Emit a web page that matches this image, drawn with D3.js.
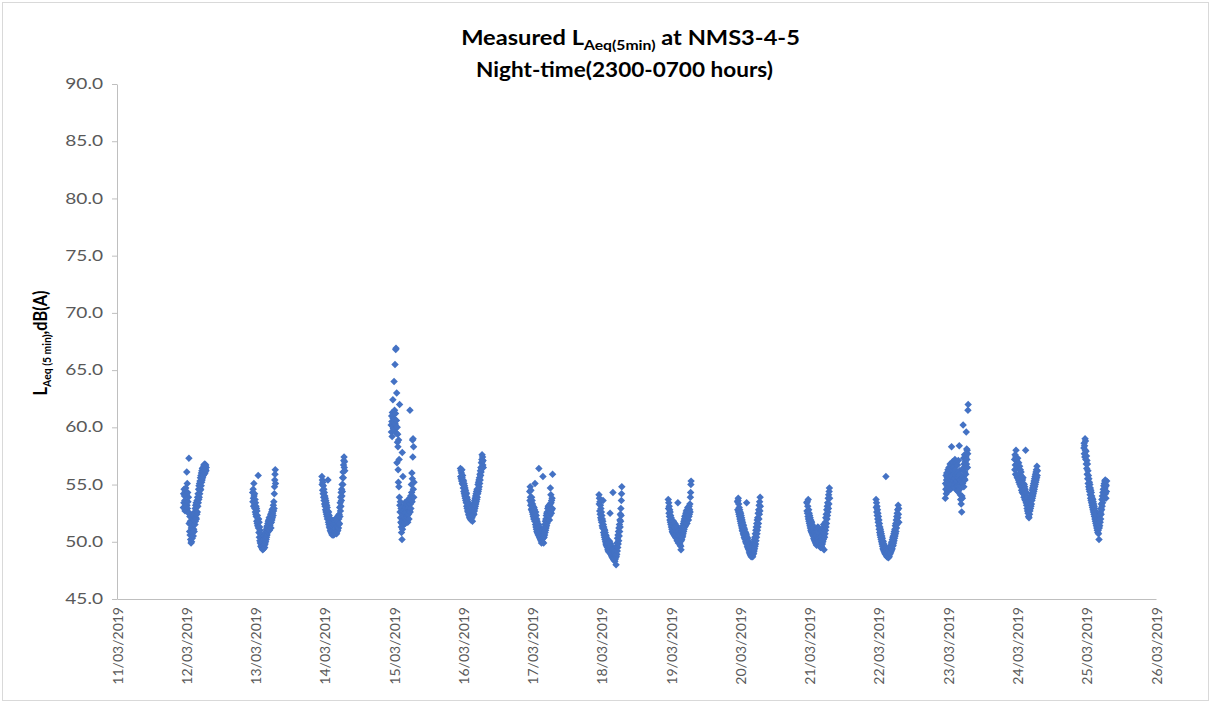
<!DOCTYPE html>
<html><head><meta charset="utf-8">
<script src="https://cdn.jsdelivr.net/npm/d3@7"></script>
<style>body{margin:0;background:#fff}svg{display:block}</style>
</head><body>
<svg id="chart" width="1212" height="704"></svg>
<script>
// ---- data: L_Aeq(5min) in dB(A), 5-minute values 23:00-07:00, each night labelled by the day it ends
const nightEndDays = [12,13,14,15,16,17,18,19,20,21,22,23,24,25];
const night12 = [
53.0,54.2,53.4,54.6,52.9,54.0,53.6,52.7,54.4,53.3,54.7,53.1,
52.8,54.1,56.1,53.2,55.1,52.9,54.3,53.5,52.6,53.9,52.5,57.3,
51.6,52.5,50.9,52.2,50.6,51.8,50.2,51.5,49.9,51.2,50.0,50.7,
51.4,50.3,52.0,50.8,51.7,50.5,52.3,51.1,52.5,50.9,51.9,52.6,
51.5,52.9,51.8,53.2,52.1,53.4,52.0,53.0,52.4,53.6,52.6,53.9,
53.1,54.2,53.4,54.6,53.7,54.9,53.9,55.1,54.2,55.3,54.5,55.6,
54.6,55.8,54.9,56.0,55.2,56.2,55.4,56.4,55.6,55.9,56.5,55.8,
56.1,56.7,55.9,56.5,56.2,56.8,56.0,56.6,56.3,56.7,56.2,56.5];
const night13 = [
54.3,53.5,54.6,53.8,53.1,55.1,54.0,53.2,54.2,52.9,53.7,52.6,
53.4,52.4,53.1,52.2,52.9,51.8,52.7,51.6,52.3,51.4,52.0,55.8,
51.2,52.0,50.8,51.7,50.4,51.3,50.1,51.0,49.9,50.7,49.6,50.5,
49.8,50.6,49.5,50.3,49.4,50.1,49.3,50.0,49.6,50.4,49.4,50.2,
49.7,50.5,49.5,50.3,49.8,50.7,50.0,50.9,50.2,51.1,50.4,51.3,
50.6,51.4,50.8,51.6,50.9,51.8,51.1,51.9,51.3,52.1,51.0,51.7,
51.4,52.2,51.6,52.4,51.2,52.0,51.7,52.6,51.9,52.8,52.1,52.5,
52.9,52.3,53.2,52.7,53.5,52.9,54.2,54.8,55.4,55.9,56.3,55.1];
const night14 = [
55.7,55.0,55.4,54.5,55.2,54.2,54.9,53.9,54.6,53.6,54.3,53.3,
54.0,53.1,53.8,52.8,53.6,52.6,53.4,52.4,53.2,52.2,53.0,52.0,
52.7,55.4,52.4,51.7,52.6,51.5,52.3,51.3,52.1,51.2,52.0,51.0,
51.8,50.9,51.7,50.8,51.5,50.7,51.4,50.6,51.6,50.9,51.8,50.7,
51.5,50.6,51.7,50.8,51.9,50.7,51.6,50.9,52.0,51.1,51.8,50.8,
51.6,50.7,51.9,50.9,51.4,52.1,51.0,51.7,52.3,51.2,52.0,51.5,
52.4,51.6,53.0,52.2,53.4,52.7,53.9,53.1,54.3,53.6,54.6,54.0,
55.0,54.4,55.6,55.0,56.1,55.6,56.7,57.1,57.4,56.5,57.0,56.2];
const night15 = [
60.2,59.6,61.0,60.5,59.2,61.3,60.1,62.4,60.8,59.9,61.1,60.4,
64.0,60.7,61.5,59.8,65.5,60.3,61.2,66.8,66.9,59.5,60.6,63.0,
56.9,60.0,58.7,59.4,58.3,56.3,55.2,58.9,54.8,57.2,53.9,62.0,
53.2,52.6,53.5,52.1,51.7,52.9,51.3,50.8,51.6,50.2,57.8,51.1,
52.4,55.7,51.9,52.7,51.5,53.1,52.2,51.8,52.8,53.4,52.0,51.6,
52.5,53.0,51.9,52.6,53.3,52.1,52.8,53.6,52.3,51.7,52.9,53.2,
52.4,53.0,52.0,53.5,52.7,53.8,61.5,52.6,53.3,54.0,52.9,53.6,
55.0,54.3,56.0,53.5,55.5,58.9,57.4,59.0,54.6,58.3,53.9,55.2];
const night16 = [
56.4,55.7,56.2,55.5,56.0,55.3,56.3,55.6,55.1,55.8,55.0,55.4,
54.7,55.3,54.4,55.1,54.2,54.9,54.0,54.7,53.8,54.5,53.6,54.3,
53.4,54.2,53.1,53.9,52.9,53.7,52.7,53.5,52.6,53.3,52.4,53.1,
52.3,53.2,52.1,53.0,52.2,52.9,52.0,52.8,51.9,52.7,52.2,53.0,
52.1,52.9,51.8,52.6,52.3,53.1,52.5,53.3,52.4,53.4,52.7,53.6,
52.9,53.8,53.1,54.0,53.3,54.2,53.5,54.4,53.7,54.6,53.9,54.5,
54.2,55.0,54.4,55.2,54.6,55.4,54.8,55.6,55.1,55.9,55.4,56.2,
55.8,56.5,56.1,56.9,56.4,57.2,57.6,57.0,57.4,56.7,57.1,56.5];
const night17 = [
54.4,53.6,54.8,53.9,53.2,54.5,53.4,52.8,53.9,52.9,53.6,52.6,
53.3,52.4,53.1,52.2,52.9,52.0,53.0,52.1,52.8,51.8,55.1,52.4,
51.5,52.6,51.3,52.3,51.1,52.0,50.9,51.8,50.8,51.6,50.7,51.4,
50.6,51.5,56.4,50.5,51.3,50.4,51.2,50.3,51.0,50.2,50.9,50.1,
50.8,49.9,50.7,50.2,51.0,50.0,50.6,55.7,50.3,51.1,49.9,50.8,
50.4,51.2,50.6,51.5,50.8,51.8,51.0,52.0,51.2,52.3,51.4,52.5,
51.6,52.6,51.8,52.9,52.0,53.1,52.2,53.0,52.4,53.2,51.9,52.8,
52.3,53.3,54.7,52.6,54.1,53.4,52.5,53.6,52.8,53.8,52.9,55.9];
const night18 = [
54.1,53.3,53.8,52.7,53.5,52.4,53.2,52.1,52.9,51.9,52.6,51.7,
52.3,51.4,52.0,51.2,51.8,53.6,51.5,50.8,51.3,50.6,51.1,50.4,
51.0,50.2,50.8,50.0,50.6,49.8,50.5,49.7,50.3,49.6,50.2,49.5,
50.0,49.3,49.9,49.2,49.8,49.1,50.1,49.4,50.0,49.3,52.5,49.6,
49.0,49.8,48.9,49.6,48.8,49.5,48.7,49.4,48.6,49.3,54.3,49.2,
48.5,49.3,48.4,49.1,48.6,49.4,48.3,49.0,48.5,49.2,48.8,48.0,
48.7,49.6,48.9,49.9,49.2,50.3,49.5,50.6,49.8,50.9,50.1,51.2,
50.5,51.5,50.9,51.9,51.3,52.4,51.8,52.9,52.3,53.6,54.2,54.8];
const night19 = [
53.7,52.9,53.4,52.5,53.1,52.2,52.8,51.9,52.6,51.7,52.3,51.5,
52.1,51.3,51.9,51.1,51.7,50.9,51.6,50.8,51.4,50.7,51.8,50.9,
51.5,50.6,51.3,50.5,51.6,50.7,51.2,50.4,51.0,50.3,51.4,50.6,
50.9,50.1,51.2,50.3,53.4,50.5,49.9,50.8,50.0,51.0,50.2,50.7,
49.9,50.6,49.7,50.4,49.6,49.3,50.1,50.9,50.2,51.1,50.4,51.3,
50.5,51.4,50.7,51.6,50.9,51.8,51.1,52.0,51.3,52.2,51.5,52.3,
51.4,52.5,51.7,52.7,51.9,52.4,51.6,52.8,52.1,53.0,52.3,52.6,
51.9,52.9,52.2,53.1,52.4,52.8,53.3,52.6,53.9,54.3,55.0,55.3];
const night20 = [
53.5,52.8,53.6,53.8,52.6,53.3,52.4,53.0,52.2,52.8,52.0,52.6,
51.8,52.5,51.6,52.3,51.4,52.1,51.2,51.9,51.0,51.7,50.9,51.5,
50.7,51.4,50.6,51.2,50.4,51.1,50.3,50.9,50.2,50.8,50.0,50.7,
49.9,50.6,53.4,49.8,50.4,49.6,50.3,49.5,50.1,49.4,50.0,49.3,
49.8,49.1,49.7,49.0,49.6,48.9,49.5,48.8,49.4,48.7,49.3,48.9,
49.6,48.8,49.5,48.7,49.7,48.9,49.8,49.0,50.0,49.2,50.2,49.4,
50.4,49.6,50.7,49.8,51.0,50.1,51.3,50.4,51.6,50.7,51.9,51.0,
52.1,51.3,52.5,51.6,52.8,52.0,53.2,52.4,53.5,52.7,53.9,53.1];
const night21 = [
53.4,52.7,53.5,52.5,53.1,52.2,53.7,52.0,52.8,51.8,52.5,51.6,
52.3,51.4,52.1,51.2,51.9,51.0,51.8,50.9,51.7,50.8,51.5,50.7,
51.4,50.6,51.3,50.5,51.2,50.3,51.0,50.2,50.9,50.1,50.8,50.0,
50.7,49.9,50.6,49.8,50.5,49.7,50.9,50.0,51.1,50.2,51.3,50.4,
50.9,50.1,51.2,50.3,50.8,49.9,50.5,49.6,50.3,49.5,50.1,49.7,
50.4,49.6,50.2,49.5,50.6,49.8,50.9,50.0,51.2,50.2,51.5,50.5,
49.3,51.0,50.4,51.4,50.7,51.7,51.0,52.1,51.3,52.4,51.6,52.8,
52.0,53.1,52.3,53.4,52.6,53.8,52.9,54.1,53.3,54.4,54.7,53.8];
const night22 = [
53.7,53.0,53.4,52.6,53.1,52.3,52.8,52.0,52.5,51.7,52.2,51.4,
51.9,51.1,51.6,50.8,51.3,50.6,51.1,50.4,50.9,50.2,50.7,50.0,
50.5,49.8,50.3,49.6,50.1,49.4,50.0,49.3,49.8,49.2,49.7,49.1,
49.6,49.0,49.5,48.9,49.4,55.7,49.3,48.8,49.2,48.7,49.1,48.9,
49.0,48.7,49.2,48.6,49.1,48.8,49.3,48.7,49.4,48.9,49.5,49.0,
49.6,49.1,49.7,49.2,49.9,49.3,50.0,49.4,50.2,49.6,50.4,49.7,
50.5,49.9,50.7,50.1,50.9,50.3,51.1,50.5,51.4,50.7,51.6,50.9,
51.9,51.2,52.2,51.5,52.5,51.8,52.8,52.1,53.2,52.4,52.9,51.7];
const night23 = [
53.8,55.1,54.6,55.8,54.2,55.4,56.0,54.9,55.6,54.4,55.2,56.3,
54.7,55.9,55.3,56.5,54.8,55.7,56.2,55.0,56.8,55.5,54.6,56.1,
55.4,56.7,58.3,55.8,56.4,55.1,57.0,56.2,55.6,56.9,55.3,56.5,
55.9,54.8,56.6,55.5,57.2,55.0,56.3,54.7,55.8,56.9,55.2,54.5,
56.0,55.3,54.9,56.7,55.6,54.4,57.1,55.8,54.8,55.5,58.4,56.2,
54.6,55.9,54.1,55.4,53.7,54.9,53.3,55.2,52.6,54.0,55.6,53.8,
55.1,56.4,60.2,55.7,57.3,54.8,56.8,55.5,57.6,56.1,55.4,57.0,
56.6,55.9,57.4,59.6,56.8,58.1,57.2,58.0,56.5,57.7,61.5,62.0];
const night24 = [
57.2,56.3,57.6,56.7,55.9,57.4,58.0,56.4,57.1,55.8,56.8,55.6,
56.7,57.3,55.8,56.5,55.4,56.9,55.2,56.3,55.5,56.6,55.0,55.9,
56.3,55.2,54.8,56.1,55.0,54.5,55.7,54.8,54.3,55.4,54.6,55.6,
54.2,55.1,54.5,53.9,55.0,54.1,54.8,53.7,54.6,53.6,58.0,54.3,
53.4,54.3,53.2,54.0,52.9,53.8,52.7,53.5,52.5,53.3,52.2,53.0,
52.1,53.0,52.4,53.3,52.7,53.6,52.9,53.8,53.1,54.0,53.3,54.2,
53.6,54.5,53.8,54.7,54.0,54.9,54.2,55.1,54.4,55.3,54.6,55.5,
54.8,55.7,55.0,55.9,55.2,56.1,55.4,56.3,55.6,56.6,55.8,56.2];
const night25 = [
58.2,58.6,57.7,58.4,57.4,59.0,58.0,58.8,57.2,57.9,56.8,57.5,
56.4,57.1,55.9,56.8,55.5,56.2,55.1,55.8,54.8,55.5,54.6,55.2,
54.4,55.0,54.1,54.7,53.8,54.5,53.6,54.3,53.4,54.0,53.2,53.8,
53.0,53.7,52.8,53.5,52.6,53.3,52.4,53.1,52.2,52.9,52.0,52.7,
51.8,52.6,51.6,52.4,51.4,52.2,51.2,52.0,51.0,51.8,50.8,51.6,
51.0,50.7,51.5,50.2,51.2,52.0,51.4,52.3,51.7,52.6,52.0,52.9,
52.4,53.3,52.8,53.7,53.1,54.0,53.4,54.3,53.7,54.6,54.0,54.9,
54.3,55.1,54.5,55.3,54.7,55.4,54.2,55.0,53.8,54.9,54.4,55.3];
const yTickValues = [45,50,55,60,65,70,75,80,85,90];
const xTickDays = [11,12,13,14,15,16,17,18,19,20,21,22,23,24,25,26];
const titleMain = "Measured L";
const titleSub = "Aeq(5min)";
const titleRest = " at NMS3-4-5";
const titleLine2 = "Night-time(2300-0700 hours)";
const yLabelMain = "L";
const yLabelSub = "Aeq (5 min)";
const yLabelRest = ",dB(A)";

// ---- build rows
const nights = [night12,night13,night14,night15,night16,night17,night18,night19,night20,night21,night22,night23,night24,night25];
const points = [];
nights.forEach((vals, k) => {
  const start = Date.UTC(2019, 2, nightEndDays[k] - 1, 23, 0);
  vals.forEach((v, i) => points.push({t: new Date(start + i * 300000), v}));
});

// ---- chart
const svg = d3.select("#chart");
const FONT = "Lato, 'Open Sans', 'Liberation Sans', sans-serif";
svg.append("rect").attr("x",2.5).attr("y",2.5).attr("width",1206).attr("height",698)
  .attr("fill","#fff").attr("stroke","#D9D9D9");

const x = d3.scaleUtc().domain([new Date(Date.UTC(2019,2,11)), new Date(Date.UTC(2019,2,26))]).range([117,1156]);
const y = d3.scaleLinear().domain([45,90]).range([599,84]);

// y axis
const gy = svg.append("g").attr("transform","translate(117,0)")
  .call(d3.axisLeft(y).tickValues(yTickValues).tickSize(5).tickSizeOuter(0).tickFormat(d3.format(".1f")));
gy.select(".domain").attr("stroke","#BFBFBF");
gy.selectAll(".tick line").attr("stroke","#BFBFBF");
gy.selectAll(".tick text").attr("fill","#595959").attr("font-family",FONT).attr("font-size",14.5)
  .attr("x",0).attr("text-anchor","end").attr("transform","translate(-14,0) scale(1.32,1)");

// x axis
const gx = svg.append("g").attr("transform","translate(0,599)")
  .call(d3.axisBottom(x).tickValues(xTickDays.map(d => new Date(Date.UTC(2019,2,d))))
    .tickSize(0).tickSizeOuter(0).tickFormat(d3.utcFormat("%d/%m/%Y")));
gx.select(".domain").attr("stroke","#BFBFBF");
gx.selectAll(".tick text").attr("fill","#595959").attr("font-family",FONT).attr("font-size",14)
  .attr("x",-8).attr("y",0).attr("dy","0.36em").attr("text-anchor","end").attr("transform","rotate(-90)");

// points
const marker = d3.symbol(d3.symbolSquare, 28)();
svg.append("g").selectAll("path").data(points).join("path")
  .attr("d", marker)
  .attr("transform", d => `translate(${x(d.t)},${y(d.v)}) rotate(45)`)
  .attr("fill","#4472C4");

// helper: fit text horizontally
function fitWidth(text, target) {
  const w = text.node().getBBox().width;
  text.attr("transform", `scale(${target / w},1)`);
}

// title
const t1g = svg.append("g").attr("transform","translate(630.5,45)");
const t1 = t1g.append("text").attr("text-anchor","middle").attr("font-family",FONT)
  .attr("font-weight","bold").attr("font-size",21).attr("fill","#000");
t1.append("tspan").text(titleMain);
t1.append("tspan").attr("font-size",14).attr("dy",5).text(titleSub);
t1.append("tspan").attr("dy",-5).text(titleRest);
fitWidth(t1, 339);

const t2g = svg.append("g").attr("transform","translate(624.5,77)");
const t2 = t2g.append("text").attr("text-anchor","middle").attr("font-family",FONT)
  .attr("font-weight","bold").attr("font-size",21).attr("fill","#000").text(titleLine2);
fitWidth(t2, 297);

// y axis title
const ylg = svg.append("g").attr("transform","translate(47,343) rotate(-90)");
const yl = ylg.append("text").attr("text-anchor","middle").attr("font-family",FONT)
  .attr("font-weight","bold").attr("font-size",18).attr("fill","#000");
yl.append("tspan").text(yLabelMain);
yl.append("tspan").attr("font-size",11.5).attr("dy",4).text(yLabelSub);
yl.append("tspan").attr("dy",-4).text(yLabelRest);
fitWidth(yl, 105);
</script>
</body></html>
